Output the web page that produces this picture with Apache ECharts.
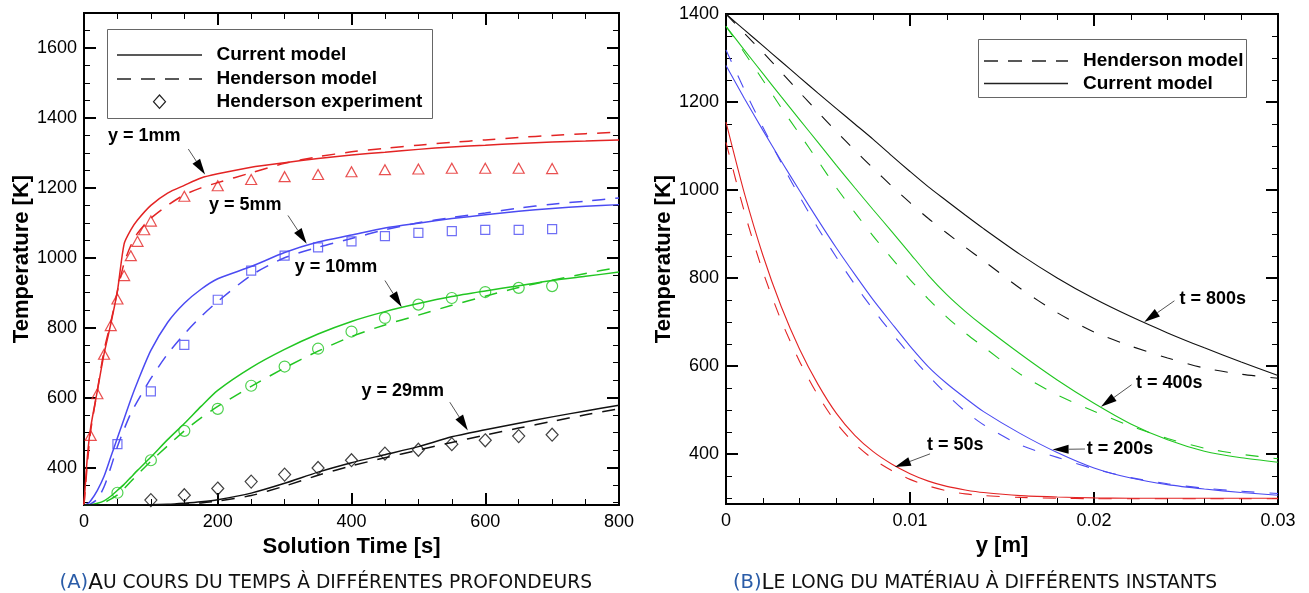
<!DOCTYPE html>
<html><head><meta charset="utf-8">
<script src="https://cdn.jsdelivr.net/npm/echarts@6/dist/echarts.min.js"></script>
<style>html,body{margin:0;padding:0;background:#fff}#c{width:1309px;height:593px}</style>
</head><body><div id="c"></div>
<script>
// ---------- DATA: left chart (temperature vs time at several depths) ----------
const T_GRID = [0,5,10,20,30,40,50,60,70,80,100,125,150,175,200,250,300,350,400,450,500,550,600,650,700,750,800];
const CUR_1MM  = [293,430,515,620,725,810,905,1040,1080,1108,1150,1185,1207,1228,1240,1259,1272,1284,1294,1302,1310,1317,1322,1327,1331,1334,1337];
const HEN_1MM  = [293,410,505,621,735,815,905,985,1035,1070,1113,1150,1180,1200,1215,1243,1270,1289,1303,1313,1322,1330,1337,1344,1350,1355,1359];
const CUR_5MM  = [293,296,305,335,375,430,485,540,595,645,735,815,870,910,940,975,1015,1045,1065,1085,1099,1112,1123,1133,1141,1147,1152];
const HEN_5MM  = [293,293,296,310,345,400,460,510,555,590,655,725,782,832,875,950,1000,1030,1055,1080,1100,1115,1128,1142,1153,1162,1171];
const CUR_10MM = [293,293,294,298,305,318,335,352,372,392,430,480,526,575,621,686,738,782,818,846,869,889,905,920,935,947,959];
const HEN_10MM = [293,293,293,295,300,310,322,340,360,380,418,462,505,542,575,632,685,733,775,808,836,864,890,915,936,955,973];
const CUR_29MM = [293,293,293,293,293,293,293,293,293,294,294,295,298,302,308,327,355,387,414,437,460,488,508,527,545,562,578];
const HEN_29MM = [293,293,293,293,293,293,293,293,293,293,293,294,296,299,304,320,347,378,405,428,450,472,493,513,532,551,568];
const EXP_T_1MM = [10,20,30,40,50,60,70,80,90,100,150,200,250,300,350,400,450,500,550,600,650,700];
const EXP_1MM   = [492,611,724,806,882,949,1006,1047,1080,1105,1176,1206,1224,1232,1238,1246,1252,1254,1256,1256,1256,1255];
const EXP_T_MID = [50,100,150,200,250,300,350,400,450,500,550,600,650,700];
const EXP_5MM   = [467,618,751,880,963,1006,1030,1047,1062,1071,1076,1080,1080,1082];
const EXP_10MM  = [328,421,505,568,634,689,740,789,828,866,885,902,914,919];
const EXP_T_29  = [100,150,200,250,300,350,400,450,500,550,600,650,700];
const EXP_29MM  = [307,321,340,360,380,399,421,440,451,467,478,490,494];
const X_TICKS_L = [0,200,400,600,800];
const Y_TICKS_L = [400,600,800,1000,1200,1400,1600];

// ---------- DATA: right chart (temperature along the material) ----------
const Y_GRID = [0,0.001,0.002,0.003,0.004,0.005,0.006,0.007,0.008,0.009,0.010,0.011,0.012,0.013,0.014,0.016,0.018,0.020,0.022,0.024,0.026,0.028,0.030];
const CUR_50S  = [1154,992,852,735,638,558,492,442,405,377,355,338,326,318,312,305,302,300,299,299,299,299,299];
const HEN_50S  = [1108,950,815,703,610,533,470,423,388,362,342,327,316,309,305,301,299,298,298,298,298,298,298];
const CUR_200S = [1283,1208,1136,1066,998,932,868,808,750,697,645,598,560,527,496,446,403,368,345,330,320,312,306];
const HEN_200S = [1318,1228,1143,1062,985,913,847,785,728,675,625,578,535,497,466,420,392,366,346,332,322,315,310];
const CUR_400S = [1372,1318,1265,1212,1160,1108,1056,1005,955,906,856,806,762,724,690,627,568,515,468,432,406,391,381];
const HEN_400S = [1372,1312,1250,1187,1127,1066,1005,949,895,845,796,752,711,675,643,581,534,497,463,435,413,399,389];
const CUR_800S = [1400,1364,1328,1292,1256,1220,1185,1150,1115,1078,1042,1007,975,943,912,853,800,753,712,675,641,609,578];
const HEN_800S = [1400,1356,1313,1268,1222,1177,1133,1090,1049,1009,971,935,902,870,839,776,721,677,645,618,595,581,572];
const X_TICKS_R = [0,0.01,0.02,0.03];
const Y_TICKS_R = [400,600,800,1000,1200,1400];

// ---------- annotations (data coordinates) ----------
const ANN_L_TEXT = ['y = 1mm','y = 5mm','y = 10mm','y = 29mm'];
const ANN_L_POS  = [[36,1349],[187,1152],[315,973],[415,618]];
const ANN_L_TAIL = [[156,1311],[305,1121],[450,935],[547,587]];
const ANN_L_TIP  = [[181,1238],[333,1040],[475,859],[574,506]];
const ANN_R_TEXT = ['t = 800s','t = 400s','t = 200s','t = 50s'];
const ANN_R_POS  = [[0.02465,751],[0.02228,561],[0.0196,410],[0.01092,419]];
const ANN_R_TAIL = [[0.02437,748],[0.02204,557],[0.01951,411],[0.01109,400]];
const ANN_R_TIP  = [[0.02273,700],[0.02038,507],[0.01775,410],[0.00918,370]];

const FONT = 'Liberation Sans, Arial, Helvetica, sans-serif';
const RED = '#e32424', BLUE = '#4b4bf2', GREEN = '#22c622', BLACK = '#111111';

function pairs(xs, ys) { return xs.map((x, i) => [x, ys[i]]); }
function minorList(lo, hi, step, majorStep) {
  const out = [];
  for (let v = lo; v <= hi + 1e-9; v += step) if (Math.abs(v % majorStep) > 1e-6) out.push(v);
  return out;
}
const Y_MINOR_L = minorList(300, 1650, 50, 200);
const Y_MINOR_R = minorList(300, 1350, 50, 200);

function xAx(grid, min, max, interval, split, pos, show, name, fmt) {
  return {
    gridIndex: grid, type: 'value', min, max, interval, position: pos,
    axisLine: { show: true, onZero: false, lineStyle: { color: '#000', width: 2 } },
    axisTick: { show: true, inside: true, length: 12, lineStyle: { color: '#000', width: 2 } },
    minorTick: { show: true, splitNumber: split, length: 6, lineStyle: { color: '#000', width: 1 } },
    axisLabel: { show: show, color: '#000', fontSize: 18, fontFamily: FONT, margin: 8, formatter: fmt },
    splitLine: { show: false }, minorSplitLine: { show: false },
    name: show ? name : '', nameLocation: 'middle', nameGap: 15,
    nameTextStyle: { color: '#000', fontSize: 22, fontWeight: 'bold', fontFamily: FONT }
  };
}
function yAx(grid, min, max, pos, values, len, w, show, name) {
  return {
    gridIndex: grid, type: 'value', min, max, position: pos,
    axisLine: { show: true, onZero: false, lineStyle: { color: '#000', width: 2 } },
    axisTick: { show: true, inside: true, length: len, customValues: values, lineStyle: { color: '#000', width: w } },
    axisLabel: { show: show, customValues: values, color: '#000', fontSize: 18, fontFamily: FONT, margin: 7, formatter: v => String(v) },
    splitLine: { show: false },
    name: show ? name : '', nameLocation: 'middle', nameGap: 48, nameRotate: 90,
    nameTextStyle: { color: '#000', fontSize: 22, fontWeight: 'bold', fontFamily: FONT }
  };
}
function lineS(xi, yi, xs, ys, color, dashed, width, dash) {
  return {
    type: 'line', xAxisIndex: xi, yAxisIndex: yi, data: pairs(xs, ys), showSymbol: false, symbol: 'none',
    smooth: 0.25, silent: true, animation: false,
    lineStyle: { color, width, type: dashed ? dash : 'solid' }
  };
}
function expS(xs, ys, color, symbol, size) {
  return {
    type: 'scatter', xAxisIndex: 0, yAxisIndex: 0, data: pairs(xs, ys), symbol, symbolSize: size,
    silent: true, animation: false,
    itemStyle: { color: 'rgba(0,0,0,0)', borderColor: color, borderWidth: 1.2 }
  };
}

const fmtR = v => (v === 0 ? '0' : String(+v.toFixed(2)));
const DL = [13, 10], DR = [13, 15];

const option = {
  backgroundColor: '#fff',
  animation: false,
  grid: [
    { left: 84, top: 13, width: 535, height: 492 },
    { left: 726, top: 14, width: 552, height: 490 }
  ],
  xAxis: [
    xAx(0, 0, 800, 200, 4, 'bottom', true, 'Solution Time [s]', v => String(v)),
    xAx(0, 0, 800, 200, 4, 'top', false, ''),
    xAx(1, 0, 0.03, 0.01, 5, 'bottom', true, 'y [m]', fmtR),
    xAx(1, 0, 0.03, 0.01, 5, 'top', false, '')
  ],
  yAxis: [
    yAx(0, 293, 1700, 'left', Y_TICKS_L, 12, 2, true, 'Temperature [K]'),
    yAx(0, 293, 1700, 'right', Y_TICKS_L, 12, 2, false, ''),
    yAx(0, 293, 1700, 'left', Y_MINOR_L, 6, 1, false, ''),
    yAx(0, 293, 1700, 'right', Y_MINOR_L, 6, 1, false, ''),
    yAx(1, 286, 1400, 'left', Y_TICKS_R, 12, 2, true, 'Temperature [K]'),
    yAx(1, 286, 1400, 'right', Y_TICKS_R, 12, 2, false, ''),
    yAx(1, 286, 1400, 'left', Y_MINOR_R, 6, 1, false, ''),
    yAx(1, 286, 1400, 'right', Y_MINOR_R, 6, 1, false, '')
  ],
  series: [
    lineS(0, 0, T_GRID, CUR_1MM, RED, false, 1.5),
    lineS(0, 0, T_GRID, HEN_1MM, RED, true, 1.5, DL),
    lineS(0, 0, T_GRID, CUR_5MM, BLUE, false, 1.5),
    lineS(0, 0, T_GRID, HEN_5MM, BLUE, true, 1.5, DL),
    lineS(0, 0, T_GRID, CUR_10MM, GREEN, false, 1.5),
    lineS(0, 0, T_GRID, HEN_10MM, GREEN, true, 1.5, DL),
    lineS(0, 0, T_GRID, CUR_29MM, BLACK, false, 1.5),
    lineS(0, 0, T_GRID, HEN_29MM, BLACK, true, 1.5, DL),
    expS(EXP_T_1MM, EXP_1MM, RED, 'triangle', [11, 10]),
    expS(EXP_T_MID, EXP_5MM, BLUE, 'rect', 9),
    expS(EXP_T_MID, EXP_10MM, GREEN, 'circle', 11),
    expS(EXP_T_29, EXP_29MM, BLACK, 'diamond', [12, 13]),
    lineS(2, 4, Y_GRID, CUR_50S, RED, false, 1.1),
    lineS(2, 4, Y_GRID, HEN_50S, RED, true, 1.1, DR),
    lineS(2, 4, Y_GRID, CUR_200S, BLUE, false, 1.1),
    lineS(2, 4, Y_GRID, HEN_200S, BLUE, true, 1.1, DR),
    lineS(2, 4, Y_GRID, CUR_400S, GREEN, false, 1.1),
    lineS(2, 4, Y_GRID, HEN_400S, GREEN, true, 1.1, DR),
    lineS(2, 4, Y_GRID, CUR_800S, BLACK, false, 1.1),
    lineS(2, 4, Y_GRID, HEN_800S, BLACK, true, 1.1, DR)
  ]
};

const chart = echarts.init(document.getElementById('c'), null, { renderer: 'canvas' });
chart.setOption(option);

// ---------- graphic: annotations, legends, captions ----------
const G = [];
function arrow(p1, p2) {
  const dx = p2[0] - p1[0], dy = p2[1] - p1[1], L = Math.hypot(dx, dy);
  const ux = dx / L, uy = dy / L, hl = 16, hw = 4.5;
  const bx = p2[0] - ux * hl, by = p2[1] - uy * hl;
  G.push({ type: 'line', z: 50, silent: true, shape: { x1: p1[0], y1: p1[1], x2: bx, y2: by }, style: { stroke: '#555', lineWidth: 1 } });
  G.push({ type: 'polygon', z: 50, silent: true, shape: { points: [[p2[0], p2[1]], [bx - uy * hw, by + ux * hw], [bx + uy * hw, by - ux * hw]] }, style: { fill: '#000' } });
}
function label(p, txt) {
  G.push({ type: 'text', z: 50, silent: true, x: p[0], y: p[1], style: { text: txt, font: 'bold 18px ' + FONT, fill: '#000', align: 'left', verticalAlign: 'middle' } });
}
const finderL = { xAxisIndex: 0, yAxisIndex: 0 }, finderR = { xAxisIndex: 2, yAxisIndex: 4 };
ANN_L_TEXT.forEach((t, i) => {
  label(chart.convertToPixel(finderL, ANN_L_POS[i]), t);
  arrow(chart.convertToPixel(finderL, ANN_L_TAIL[i]), chart.convertToPixel(finderL, ANN_L_TIP[i]));
});
ANN_R_TEXT.forEach((t, i) => {
  label(chart.convertToPixel(finderR, ANN_R_POS[i]), t);
  arrow(chart.convertToPixel(finderR, ANN_R_TAIL[i]), chart.convertToPixel(finderR, ANN_R_TIP[i]));
});

function legText(x, y, t) {
  G.push({ type: 'text', z: 60, silent: true, x, y, style: { text: t, font: 'bold 19px ' + FONT, fill: '#000', align: 'left', verticalAlign: 'middle' } });
}
function legLine(x1, x2, y, dash) {
  G.push({ type: 'line', z: 60, silent: true, shape: { x1, y1: y, x2, y2: y }, style: { stroke: '#222', lineWidth: 1.3, lineDash: dash || null } });
}
// left legend
G.push({ type: 'rect', z: 55, silent: true, shape: { x: 107.5, y: 29.5, width: 325, height: 89 }, style: { fill: '#fff', stroke: '#666', lineWidth: 1 } });
legLine(117, 202, 55);
legLine(117, 202, 79, [14, 10]);
G.push({ type: 'polygon', z: 60, silent: true, shape: { points: [[159.5, 95], [165.5, 101.7], [159.5, 108.4], [153.5, 101.7]] }, style: { fill: 'rgba(0,0,0,0)', stroke: '#222', lineWidth: 1.2 } });
legText(216.5, 55, 'Current model');
legText(216.5, 79, 'Henderson model');
legText(216.5, 102, 'Henderson experiment');
// right legend
G.push({ type: 'rect', z: 55, silent: true, shape: { x: 978.5, y: 39.5, width: 268, height: 58 }, style: { fill: '#fff', stroke: '#666', lineWidth: 1 } });
legLine(984, 1068, 61, [14, 10]);
legLine(984, 1068, 83.5);
legText(1083, 61, 'Henderson model');
legText(1083, 83.5, 'Current model');
// captions
function caption(x, align, tag, first, rest) {
  G.push({ type: 'text', z: 60, silent: true, x, y: 583, style: {
    text: '{a|(' + tag + ')}{b|' + first + '}{c|' + rest + '}', align, verticalAlign: 'middle',
    rich: {
      a: { fill: '#2a5ca8', fontSize: 19.5, fontFamily: 'DejaVu Sans' },
      b: { fill: '#111', fontSize: 21.5, fontFamily: 'DejaVu Sans' },
      c: { fill: '#111', fontSize: 18.7, fontFamily: 'DejaVu Sans' }
    } } });
}
caption(592, 'right', 'A', 'A', 'U COURS DU TEMPS À DIFFÉRENTES PROFONDEURS');
caption(733, 'left', 'B', 'L', 'E LONG DU MATÉRIAU À DIFFÉRENTS INSTANTS');

chart.setOption({ graphic: G });
</script>
</body></html>
